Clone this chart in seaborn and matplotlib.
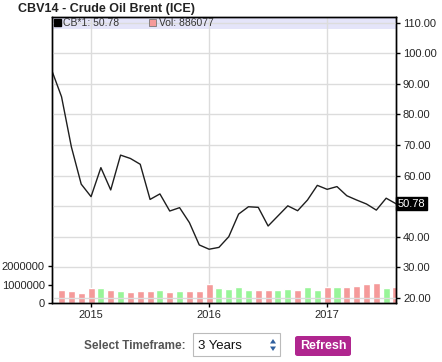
import matplotlib
matplotlib.use("Agg")
import matplotlib.pyplot as plt
from matplotlib.patches import Rectangle, FancyBboxPatch, Polygon
import seaborn as sns
import pandas as pd
import numpy as np

# monthly Brent front-month close, Sep 2014 .. Aug 2017
months = pd.date_range("2014-09-01", "2017-08-01", freq="MS")
price = [94.5, 85.8, 69.4, 57.2, 53.1, 62.6, 55.3, 66.7, 65.6, 63.7, 52.2, 54.0,
         48.4, 49.5, 44.6, 37.3, 35.9, 36.5, 40.0, 47.4, 49.8, 49.6, 43.5, 46.8,
         50.1, 48.5, 52.0, 56.8, 55.5, 56.4, 53.4, 52.0, 50.7, 48.7, 52.6, 50.78]
volume = [np.nan, 700000, 650000, 560000, 810000, 810000, 700000, 650000, 590000, 650000,
          650000, 700000, 590000, 650000, 650000, 650000, 1030000, 810000, 760000, 860000,
          700000, 700000, 700000, 700000, 760000, 700000, 860000, 700000, 860000, 860000,
          860000, 920000, 1030000, 1080000, 810000, 886077]
year_labels = ["2015", "2016", "2017"]
year_pos = [4, 16, 28]
price_ticks = [20, 30, 40, 50, 60, 70, 80, 90, 100, 110]
volume_ticks = [0, 1000000, 2000000]

W, H = 442, 362
RED = "#f59a9a"
GREEN = "#98f598"


def px(x, y):
    return x / W, 1 - y / H


df = pd.DataFrame({"idx": np.arange(len(months)), "price": price, "volume": volume})
df["dir"] = np.where(df["price"].diff() >= 0, "up", "down")

sns.set_style("white")
plt.rcParams["font.family"] = ["Liberation Sans", "DejaVu Sans"]

fig = plt.figure(figsize=(W / 100, H / 100), dpi=100)
left, right, top, bottom = 51.7, 396, 17, 303
ax = fig.add_axes([left / W, 1 - bottom / H, (right - left) / W, (bottom - top) / H])
ax.set_facecolor("none")
ax2 = ax.twinx()

# volume bars (left scale)
sns.barplot(data=df.dropna(subset=["volume"]), x="idx", y="volume", hue="dir",
            palette={"up": GREEN, "down": RED}, native_scale=True, dodge=False,
            width=0.72, errorbar=None, legend=False, saturation=1, ax=ax, zorder=1)
ax.set_ylim(0, 15.46e6)
ax.set_xlim(0, len(months) - 1)
ax.set_yticks(volume_ticks)
ax.set_yticklabels([str(v) for v in volume_ticks])
ax.set_xticks(year_pos)
ax.set_xticklabels(year_labels)
ax.set_xlabel("")
ax.set_ylabel("")
ax.set_axisbelow(True)
ax.grid(axis="x", color="#dcdcdc", lw=1)
ax.grid(axis="y", visible=False)
ax.tick_params(axis="both", labelsize=8, length=3, width=1, color="black", pad=2, direction="out")
ax.tick_params(axis="y", left=True)
ax.tick_params(axis="x", bottom=True)

# legend band
ax.add_patch(Rectangle((0, 1 - 12 / 286), 1, 12 / 286, transform=ax.transAxes,
                       color="#e4e4f9", zorder=0.2, lw=0))

# price line (right scale)
sns.lineplot(data=df, x="idx", y="price", ax=ax2, color="#1e1e1e", linewidth=1)
ax2.set_ylim(18.3, 111.9)
ax2.set_yticks(price_ticks)
# the 50 label sits under the last-price tag
ax2.set_yticklabels(["" if t == 50 else f"{t:.2f}" for t in price_ticks])
ax2.set_ylabel("")
ax2.grid(axis="y", color="#dcdcdc", lw=1)
ax2.set_axisbelow(True)
ax2.tick_params(axis="y", right=True, labelsize=8, length=3, width=1, color="black", pad=2)

for a in (ax, ax2):
    for s in a.spines.values():
        s.set_color("black")
        s.set_linewidth(1)
        s.set_visible(True)

# last price tag
ax2.text(1.005, price[-1], f"{price[-1]:.2f}", transform=ax2.get_yaxis_transform(),
         ha="left", va="center", fontsize=8, color="white", zorder=10, clip_on=False,
         bbox=dict(boxstyle="square,pad=0.15", fc="black", ec="black"))

# title
fig.text(*px(18, 9), "CBV14 - Crude Oil Brent (ICE)", fontsize=9, fontweight="bold",
         color="#222222", va="center", ha="left")

# legend entries
fig.patches.append(Rectangle(px(54, 26), 7 / W, 7 / H, transform=fig.transFigure,
                             fc="black", ec="black", zorder=5))
fig.text(*px(63, 23), "CB*1: 50.78", fontsize=7.5, color="#333333", va="center")
fig.patches.append(Rectangle(px(149, 26), 7 / W, 7 / H, transform=fig.transFigure,
                             fc=RED, ec="#777777", lw=0.6, zorder=5))
fig.text(*px(159, 23), f"Vol: {volume[-1]}", fontsize=7.5, color="#333333", va="center")

# timeframe controls
fig.text(*px(186, 346), "Select Timeframe:", fontsize=8.5, fontweight="bold",
         color="#555555", ha="right", va="center")
fig.patches.append(Rectangle(px(193, 356), 87 / W, 23 / H, transform=fig.transFigure,
                             fc="white", ec="#bbbbbb", lw=0.8, zorder=5))
fig.text(*px(198, 346), "3 Years", fontsize=9.5, color="#111111", va="center", zorder=6)
fig.patches.append(Polygon([px(270, 343.5), px(276, 343.5), px(273, 339)], closed=True,
                           transform=fig.transFigure, fc="#2f5f9e", ec="none", zorder=6))
fig.patches.append(Polygon([px(270, 346.5), px(276, 346.5), px(273, 351)], closed=True,
                           transform=fig.transFigure, fc="#2f5f9e", ec="none", zorder=6))
fig.patches.append(FancyBboxPatch(px(295, 356), 56 / W, 20 / H,
                                  boxstyle="round,pad=0,rounding_size=0.006",
                                  transform=fig.transFigure, fc="#b0268f", ec="none", zorder=5))
fig.text(*px(323, 346), "Refresh", fontsize=9, fontweight="bold", color="white",
         ha="center", va="center", zorder=6)

fig.savefig("out.png", dpi=100)
